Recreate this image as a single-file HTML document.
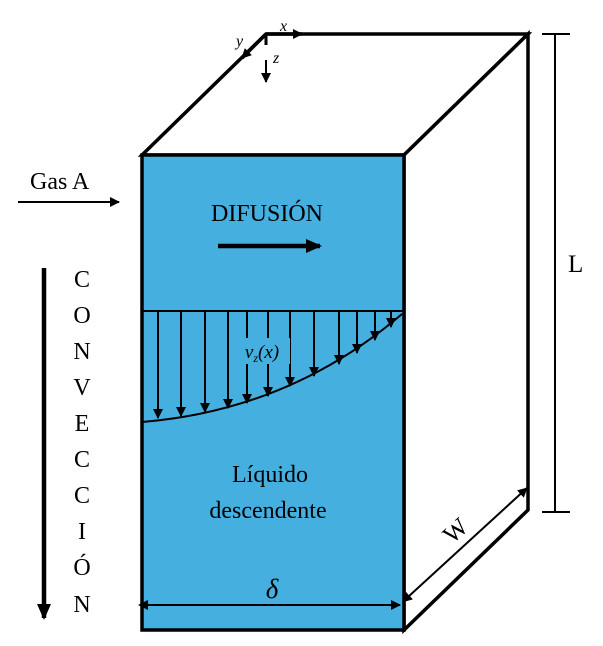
<!DOCTYPE html>
<html><head><meta charset="utf-8"><style>
body{margin:0;background:#fff}
text{font-family:"Liberation Serif",serif;fill:#000}
</style></head><body>
<svg width="603" height="641" viewBox="0 0 603 641">
<defs>
<marker id="ah" markerWidth="10" markerHeight="10" refX="9" refY="5" orient="auto" markerUnits="userSpaceOnUse"><path d="M0,0 L10,5 L0,10 Z" fill="#000"/></marker>
<marker id="ahb" markerWidth="16" markerHeight="14" refX="14" refY="7" orient="auto" markerUnits="userSpaceOnUse"><path d="M0,0 L16,7 L0,14 Z" fill="#000"/></marker>
<marker id="ahs" markerWidth="10" markerHeight="10" refX="2" refY="5" orient="auto-start-reverse" markerUnits="userSpaceOnUse"><path d="M0,0 L10,5 L0,10 Z" fill="#000"/></marker>
</defs>
<polygon points="142,155 266,34 528,34 404,155" fill="#fff" stroke="#000" stroke-width="3.5"/>
<polygon points="404,155 528,34 528,510 404,630" fill="#fff" stroke="#000" stroke-width="3.5"/>
<rect x="142" y="155" width="262" height="475" fill="#45afdf" stroke="#000" stroke-width="3.5"/>
<line x1="142" y1="311" x2="404" y2="311" stroke="#000" stroke-width="2"/>
<path d="M142,422 Q290,410 402,314" fill="none" stroke="#000" stroke-width="2"/>
<g id="arrows"></g>
<rect x="234" y="338" width="56" height="26" fill="#45afdf"/>
<text x="262" y="358" font-size="19" font-style="italic" text-anchor="middle">v<tspan font-size="12" dy="4">z</tspan><tspan dy="-4">(x)</tspan></text>
<text x="267" y="221" font-size="24" text-anchor="middle">DIFUSIÓN</text>
<line x1="218" y1="246" x2="320" y2="246" stroke="#000" stroke-width="4.5" marker-end="url(#ahb)"/>
<text x="270" y="482" font-size="24" text-anchor="middle">Líquido</text>
<text x="268" y="518" font-size="24" text-anchor="middle">descendente</text>
<line x1="146" y1="605" x2="400" y2="605" stroke="#000" stroke-width="2" marker-start="url(#ahs)" marker-end="url(#ah)"/>
<text x="272" y="598" font-size="27" font-style="italic" text-anchor="middle">δ</text>
<text x="30" y="189" font-size="24">Gas A</text>
<line x1="18" y1="202" x2="119" y2="202" stroke="#000" stroke-width="2" marker-end="url(#ah)"/>
<line x1="44" y1="268" x2="44" y2="618" stroke="#000" stroke-width="4.5" marker-end="url(#ahb)"/>
<g font-size="24">
<text x="82" y="287" text-anchor="middle">C</text><text x="82" y="323" text-anchor="middle">O</text>
<text x="82" y="359" text-anchor="middle">N</text><text x="82" y="395" text-anchor="middle">V</text>
<text x="82" y="431" text-anchor="middle">E</text><text x="82" y="467" text-anchor="middle">C</text>
<text x="82" y="503" text-anchor="middle">C</text><text x="82" y="539" text-anchor="middle">I</text>
<text x="82" y="575" text-anchor="middle">Ó</text><text x="82" y="612" text-anchor="middle">N</text>
</g>
<line x1="555" y1="34" x2="555" y2="512" stroke="#000" stroke-width="2"/>
<line x1="542" y1="34" x2="570" y2="34" stroke="#000" stroke-width="2"/>
<line x1="542" y1="512" x2="570" y2="512" stroke="#000" stroke-width="2"/>
<text x="568" y="272" font-size="25">L</text>
<line x1="408" y1="597" x2="527" y2="488" stroke="#000" stroke-width="2" marker-start="url(#ahs)" marker-end="url(#ah)"/>
<text x="455" y="539" font-size="25" text-anchor="middle" transform="rotate(-42 455 530)">W</text>
<line x1="266" y1="34" x2="302" y2="34" stroke="#000" stroke-width="3.5" marker-end="url(#ah)"/>
<line x1="266" y1="34" x2="242" y2="58" stroke="#000" stroke-width="3.5" marker-end="url(#ah)"/>
<line x1="266" y1="36" x2="266" y2="45" stroke="#000" stroke-width="3"/>
<line x1="266" y1="60" x2="266" y2="82" stroke="#000" stroke-width="2" marker-end="url(#ah)"/>
<text x="280" y="31" font-size="16" font-style="italic">x</text>
<text x="236" y="46" font-size="16" font-style="italic">y</text>
<text x="273" y="63" font-size="16" font-style="italic">z</text>
</svg>
<script>
const arrowX=[158,181,205,228,247,268,290,314,339,357,375,391];
const arrowEndY=[418,416,412,408,403,396,386,376,364,353,340,327];
const g=document.getElementById('arrows');
for(let i=0;i<arrowX.length;i++){
  const l=document.createElementNS('http://www.w3.org/2000/svg','line');
  l.setAttribute('x1',arrowX[i]);l.setAttribute('x2',arrowX[i]);
  l.setAttribute('y1',312);l.setAttribute('y2',arrowEndY[i]);
  l.setAttribute('stroke','#000');l.setAttribute('stroke-width','2');
  l.setAttribute('marker-end','url(#ah)');
  
  
  g.appendChild(l);
}
</script>
</body></html>
